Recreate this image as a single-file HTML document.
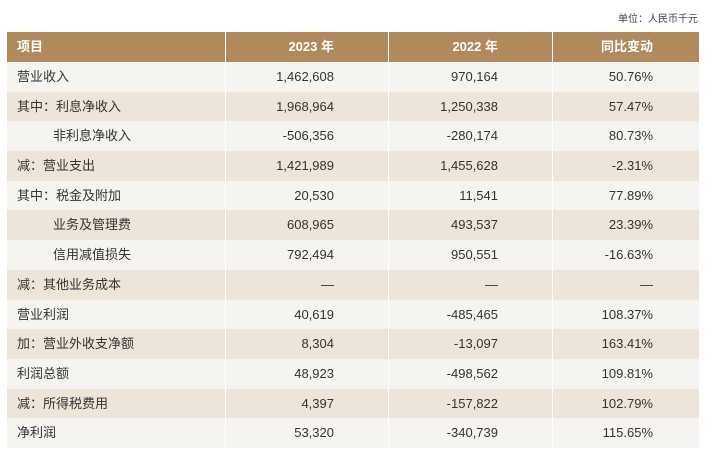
<!DOCTYPE html>
<html><head><meta charset="utf-8"><style>
*{box-sizing:border-box}
body{margin:0;width:710px;height:462px;background:#fff;font-family:"Liberation Sans","Noto Sans CJK SC",sans-serif;position:relative;overflow:hidden;color:#333}
.unit{position:absolute;right:12px;top:10px;font-size:10px;color:#444}
.tbl{position:absolute;left:7px;top:32px;width:692px;font-size:13px}
.r{display:flex;height:29.7px}
.r>div{height:100%;line-height:29.7px;white-space:nowrap;border-right:1px solid #fff}
.r>div:last-child{border-right:none}
.c1{width:219px;padding-left:10px}
.c2{width:163px;text-align:right;padding-right:54px}
.c3{width:164px;text-align:right;padding-right:54px}
.c4{width:146px;text-align:right;padding-right:46px}
.h{height:30px}
.h>div{background:#b08a5c;color:#fff;font-weight:bold;line-height:30px}
.a>div{background:#f6f4f1}
.b>div{background:#ede5d9}
.in{padding-left:46px}
</style></head><body>
<div class="unit">单位：人民币千元</div>
<div class="tbl">
<div class="r h"><div class="c1">项目</div><div class="c2">2023 年</div><div class="c3">2022 年</div><div class="c4">同比变动</div></div>
<div class="r a"><div class="c1">营业收入</div><div class="c2">1,462,608</div><div class="c3">970,164</div><div class="c4">50.76%</div></div>
<div class="r b"><div class="c1">其中：利息净收入</div><div class="c2">1,968,964</div><div class="c3">1,250,338</div><div class="c4">57.47%</div></div>
<div class="r a"><div class="c1 in">非利息净收入</div><div class="c2">-506,356</div><div class="c3">-280,174</div><div class="c4">80.73%</div></div>
<div class="r b"><div class="c1">减：营业支出</div><div class="c2">1,421,989</div><div class="c3">1,455,628</div><div class="c4">-2.31%</div></div>
<div class="r a"><div class="c1">其中：税金及附加</div><div class="c2">20,530</div><div class="c3">11,541</div><div class="c4">77.89%</div></div>
<div class="r b"><div class="c1 in">业务及管理费</div><div class="c2">608,965</div><div class="c3">493,537</div><div class="c4">23.39%</div></div>
<div class="r a"><div class="c1 in">信用减值损失</div><div class="c2">792,494</div><div class="c3">950,551</div><div class="c4">-16.63%</div></div>
<div class="r b"><div class="c1">减：其他业务成本</div><div class="c2">—</div><div class="c3">—</div><div class="c4">—</div></div>
<div class="r a"><div class="c1">营业利润</div><div class="c2">40,619</div><div class="c3">-485,465</div><div class="c4">108.37%</div></div>
<div class="r b"><div class="c1">加：营业外收支净额</div><div class="c2">8,304</div><div class="c3">-13,097</div><div class="c4">163.41%</div></div>
<div class="r a"><div class="c1">利润总额</div><div class="c2">48,923</div><div class="c3">-498,562</div><div class="c4">109.81%</div></div>
<div class="r b"><div class="c1">减：所得税费用</div><div class="c2">4,397</div><div class="c3">-157,822</div><div class="c4">102.79%</div></div>
<div class="r a"><div class="c1">净利润</div><div class="c2">53,320</div><div class="c3">-340,739</div><div class="c4">115.65%</div></div>
</div>
</body></html>
